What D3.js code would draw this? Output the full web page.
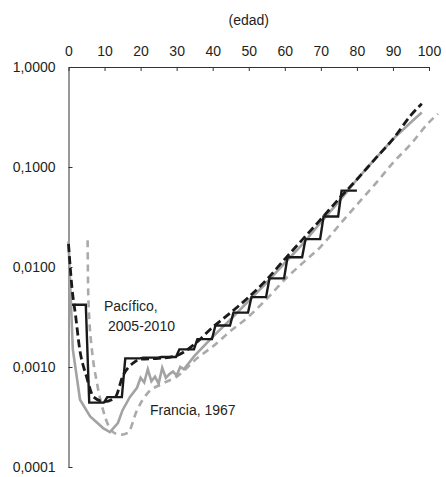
<!DOCTYPE html>
<html>
<head>
<meta charset="utf-8">
<title>mortalidad</title>
<script src="https://cdn.jsdelivr.net/npm/d3@7"></script>
<style>
  body { margin: 0; background: #fff; }
  text { font-family: "Liberation Sans", Arial, sans-serif; fill: #231f20; }
  .axis path, .axis line { stroke: #333; }
</style>
</head>
<body>
<svg id="chart" width="446" height="477"></svg>
<script>
// tick values
var xTicks = [0, 10, 20, 30, 40, 50, 60, 70, 80, 90, 100];
var yTicks = [1, 0.1, 0.01, 0.001, 0.0001];

// Pacifico 2005-2010, observed (age groups: start, end, rate)
var pacGroupAge = [1, 5, 10, 15, 20, 25, 30, 35, 40, 45, 50, 55, 60, 65, 70, 75];
var pacGroupEnd = [5, 10, 15, 20, 25, 30, 35, 40, 45, 50, 55, 60, 65, 70, 75, 80];
var pacObs = [0.0042, 0.00044, 0.00050, 0.00122, 0.00124, 0.00126, 0.0015, 0.0019, 0.0026,
              0.0035, 0.0050, 0.0077, 0.0125, 0.019, 0.032, 0.058];

// Pacifico, fitted
var pacFitAge = [0, 1, 2, 3, 5, 7, 10, 13, 15, 18, 20, 25, 30, 35, 40, 45, 50, 55, 60, 65, 70, 75, 80, 85, 90, 95, 98];
var pacFit = [0.017, 0.006, 0.0032, 0.0016, 0.0008, 0.0005, 0.00045, 0.0005, 0.0008, 0.0011, 0.0012, 0.00122,
              0.0013, 0.0017, 0.0025, 0.0035, 0.005, 0.0075, 0.012, 0.019, 0.03, 0.048, 0.075, 0.12, 0.19, 0.33, 0.43];

// Francia 1967, observed
var fraObsAge = [0, 1.2, 3.2, 6, 9.6, 11.5, 13.7, 15, 17, 19, 20, 21, 22, 23, 24, 25, 26, 27, 28, 29, 30, 31, 32,
                 35, 40, 45, 50, 55, 60, 65, 70, 75, 80, 85, 90, 95, 98];
var fraObs = [0.018, 0.0015, 0.00047, 0.00032, 0.000245, 0.000223, 0.000275, 0.00037, 0.0005, 0.00062,
              0.00078, 0.0007, 0.00095, 0.00072, 0.0008, 0.00068, 0.00098, 0.00078, 0.00085, 0.0009, 0.00082,
              0.001, 0.00095, 0.0013, 0.002, 0.003, 0.0046, 0.007, 0.011, 0.017, 0.028, 0.045, 0.075, 0.12,
              0.19, 0.28, 0.35];

// Francia, fitted
var fraFitAge = [5.3, 5.45, 5.8, 6.4, 7.9, 9.6, 12, 14.3, 16.5, 19, 22, 26, 30, 36, 40, 45, 50, 55, 60, 65, 70,
                 75, 80, 85, 90, 95, 100, 102.5];
var fraFit = [0.0185, 0.006, 0.0029, 0.0016, 0.00069, 0.00037, 0.00023, 0.00021, 0.00022, 0.00037, 0.00055,
              0.00068, 0.0008, 0.00125, 0.0016, 0.0023, 0.0032, 0.0048, 0.0075, 0.011, 0.016, 0.026, 0.042,
              0.067, 0.11, 0.17, 0.28, 0.34];

var svg = d3.select('#chart');

var x = d3.scaleLinear().domain([0, 100]).range([68.5, 429]);
var y = d3.scaleLog().domain([0.0001, 1]).range([467, 67]);

// top axis, ticks pointing down
var xAxis = svg.append('g')
    .attr('class', 'axis')
    .attr('transform', 'translate(0,' + y(1) + ')')
    .call(d3.axisTop(x).tickValues(xTicks).tickSizeInner(-4).tickSizeOuter(0).tickPadding(0));
xAxis.selectAll('text')
    .attr('y', -11)
    .style('font-size', '14px');

var yAxis = svg.append('g')
    .attr('class', 'axis')
    .attr('transform', 'translate(' + x(0) + ',0)')
    .call(d3.axisLeft(y).tickValues(yTicks).tickSizeInner(-4).tickSizeOuter(0).tickPadding(0)
        .tickFormat(function(d) { return d.toFixed(4).replace('.', ','); }));
yAxis.selectAll('text')
    .attr('x', -13)
    .style('font-size', '14px');
yAxis.select('.tick line').remove(); // top tick sits on the x axis
d3.selectAll('.axis .domain').attr('stroke', '#333');

svg.append('text')
    .attr('x', x(50))
    .attr('y', 25)
    .attr('text-anchor', 'middle')
    .style('font-size', '14px')
    .text('(edad)');

var line = d3.line()
    .x(function(d) { return x(d[0]); })
    .y(function(d) { return y(d[1]); });

// step points for the observed Pacifico groups
var pacSteps = [];
pacGroupAge.forEach(function(a, i) {
    var e = pacGroupEnd[i];
    var w = e - a;
    pacSteps.push([a + (i === 0 ? 0 : Math.min(0.8, w * 0.15)), pacObs[i]]);
    pacSteps.push([e - (i === pacGroupAge.length - 1 ? 0 : Math.min(0.2, w * 0.05)), pacObs[i]]);
});

var fraFitPts = fraFitAge.map(function(a, i) { return [a, fraFit[i]]; });
var fraObsPts = fraObsAge.map(function(a, i) { return [a, fraObs[i]]; });
var pacFitPts = pacFitAge.map(function(a, i) { return [a, pacFit[i]]; });

svg.append('path').datum(fraFitPts)
    .attr('d', line.curve(d3.curveMonotoneX))
    .attr('fill', 'none').attr('stroke', '#aaaaaa').attr('stroke-width', 2.6)
    .attr('stroke-dasharray', '7,5');

svg.append('path').datum(fraObsPts)
    .attr('d', line.curve(d3.curveLinear))
    .attr('fill', 'none').attr('stroke', '#a3a3a3').attr('stroke-width', 2.6);

svg.append('path').datum(pacFitPts)
    .attr('d', line.curve(d3.curveMonotoneX))
    .attr('fill', 'none').attr('stroke', '#1a1a1a').attr('stroke-width', 2.8)
    .attr('stroke-dasharray', '8,4');

svg.append('path').datum(pacSteps)
    .attr('d', line.curve(d3.curveLinear))
    .attr('fill', 'none').attr('stroke', '#1a1a1a').attr('stroke-width', 2.4);

svg.append('text')
    .attr('x', 104).attr('y', 311)
    .style('font-size', '14px')
    .text('Pacífico,');
svg.append('text')
    .attr('x', 108).attr('y', 331)
    .style('font-size', '14px')
    .text('2005-2010');
svg.append('text')
    .attr('x', 150).attr('y', 415)
    .style('font-size', '14px')
    .text('Francia, 1967');
</script>
</body>
</html>
